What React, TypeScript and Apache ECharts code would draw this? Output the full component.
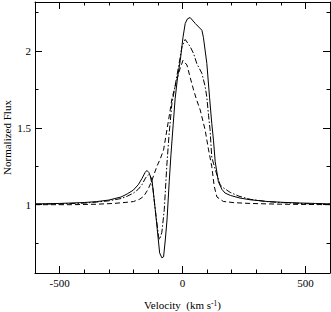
import React, { useEffect, useRef } from "react";
import * as echarts from "echarts";

// Solid profile
const solidVel = [-600, -500, -400, -350, -300, -250, -225, -200, -180, -165, -152, -145, -137, -124, -111, -97, -93, -84, -77, -70, -63, -54, -47, -38, -30, -20, -9, 2, 11, 20, 31, 52, 79, 85, 99, 110, 119, 126, 133, 146, 160, 173, 195, 234, 275, 343, 410, 478, 540, 600];
const solidFlux = [1.005, 1.008, 1.014, 1.02, 1.03, 1.05, 1.07, 1.095, 1.13, 1.17, 1.21, 1.223, 1.21, 1.16, 0.97, 0.75, 0.686, 0.654, 0.66, 0.77, 0.9, 1.15, 1.325, 1.52, 1.69, 1.83, 1.94, 2.09, 2.18, 2.21, 2.219, 2.18, 2.136, 2.09, 1.92, 1.7, 1.53, 1.42, 1.28, 1.15, 1.1, 1.076, 1.06, 1.043, 1.032, 1.021, 1.015, 1.011, 1.008, 1.005];

// Dash-dot profile
const dashDotVel = [-600, -500, -400, -350, -300, -250, -225, -200, -180, -165, -150, -138, -130, -120, -111, -97, -93, -84, -74, -64, -55, -43, -36, -16, -2, 11, 31, 45, 58, 79, 92, 99, 106, 112, 119, 126, 133, 153, 166, 194, 230, 275, 343, 410, 478, 540, 600];
const dashDotFlux = [1.003, 1.005, 1.01, 1.017, 1.025, 1.04, 1.055, 1.075, 1.1, 1.13, 1.175, 1.195, 1.18, 1.1, 0.97, 0.79, 0.773, 0.82, 0.97, 1.25, 1.45, 1.66, 1.72, 1.9, 2.03, 2.076, 2.03, 1.985, 1.92, 1.855, 1.77, 1.7, 1.58, 1.49, 1.31, 1.27, 1.23, 1.13, 1.11, 1.08, 1.055, 1.035, 1.02, 1.013, 1.008, 1.005, 1.003];

// Dashed profile
const dashedVel = [-600, -450, -350, -280, -230, -200, -175, -158, -140, -124, -104, -90, -77, -62, -50, -43, -30, -12, 2, 18, 31, 45, 58, 72, 92, 106, 119, 129, 140, 166, 210, 275, 400, 600];
const dashedFlux = [1.0, 1.0, 1.003, 1.008, 1.015, 1.02, 1.035, 1.054, 1.1, 1.16, 1.25, 1.3, 1.357, 1.5, 1.617, 1.69, 1.77, 1.877, 1.94, 1.91, 1.83, 1.747, 1.68, 1.617, 1.487, 1.357, 1.25, 1.12, 1.05, 1.021, 1.013, 1.008, 1.003, 1.0];

const xMajorTicks = [-500, 0, 500];
const xMinorTicks = [-600, -500, -400, -300, -200, -100, 0, 100, 200, 300, 400, 500, 600];
const yMajorTicks = [1, 1.5, 2];
const yMinorTicks = [0.75, 1.25, 1.75, 2.25];

const X_MIN = -600;
const X_MAX = 600;
const Y_MIN = 0.555;
const Y_MAX = 2.32;

const FONT = "Liberation Serif";

const zip = (a: number[], b: number[]) => a.map((v, i) => [v, b[i]]);

export default function App() {
  const ref = useRef<HTMLDivElement>(null);
  useEffect(() => {
    if (!ref.current) return;
    const chart = echarts.init(ref.current, undefined, { renderer: "svg" });
    const line = { show: true, onZero: false, lineStyle: { color: "#000", width: 1 } };
    const noLine = { show: false, onZero: false };
    const baseX = (position: string, ticks: number[], len: number, showLine: boolean, labels: boolean) => ({
      type: "value",
      position,
      min: X_MIN,
      max: X_MAX,
      axisLine: showLine ? line : noLine,
      axisTick: { show: true, inside: true, length: len, customValues: ticks, lineStyle: { color: "#000", width: 1 } },
      axisLabel: labels
        ? { show: true, customValues: ticks, fontFamily: FONT, fontSize: 11, color: "#000", margin: 4 }
        : { show: false },
      splitLine: { show: false },
    });
    const baseY = (position: string, ticks: number[], len: number, showLine: boolean, labels: boolean) => ({
      type: "value",
      position,
      min: Y_MIN,
      max: Y_MAX,
      axisLine: showLine ? line : noLine,
      axisTick: { show: true, inside: true, length: len, customValues: ticks, lineStyle: { color: "#000", width: 1 } },
      axisLabel: labels
        ? { show: true, customValues: ticks, fontFamily: FONT, fontSize: 11, color: "#000", margin: 4 }
        : { show: false },
      splitLine: { show: false },
    });
    const xMain: any = baseX("bottom", xMajorTicks, 7, true, true);
    xMain.name = "{a|Velocity  (km s}{sup|-1}{a|)}";
    xMain.nameLocation = "middle";
    xMain.nameGap = 26;
    xMain.nameMoveOverlap = false;
    xMain.nameTextStyle = {
      rich: {
        a: { fontFamily: FONT, fontSize: 11, color: "#000" },
        sup: { fontFamily: FONT, fontSize: 7.5, color: "#000", verticalAlign: "top" },
      },
    };
    const yMain: any = baseY("left", yMajorTicks, 7, true, true);
    yMain.name = "Normalized Flux";
    yMain.nameLocation = "middle";
    yMain.nameGap = 23;
    yMain.nameMoveOverlap = false;
    yMain.nameTextStyle = { fontFamily: FONT, fontSize: 11, color: "#000" };

    chart.setOption({
      animation: false,
      grid: { left: 35, right: 1, top: 2, bottom: 39, containLabel: false, outerBoundsMode: "none" },
      xAxis: [
        xMain,
        baseX("bottom", xMinorTicks, 3.5, false, false),
        baseX("top", xMajorTicks, 7, true, false),
        baseX("top", xMinorTicks, 3.5, false, false),
      ],
      yAxis: [
        yMain,
        baseY("left", yMinorTicks, 3.5, false, false),
        baseY("right", yMajorTicks, 7, true, false),
        baseY("right", yMinorTicks, 3.5, false, false),
      ],
      series: [
        {
          type: "line",
          data: zip(solidVel, solidFlux),
          showSymbol: false,
          symbol: "none",
          lineStyle: { color: "#000", width: 1, type: "solid" },
        },
        {
          type: "line",
          data: zip(dashDotVel, dashDotFlux),
          showSymbol: false,
          symbol: "none",
          lineStyle: { color: "#000", width: 1, type: [6, 2, 1.5, 2] },
        },
        {
          type: "line",
          data: zip(dashedVel, dashedFlux),
          showSymbol: false,
          symbol: "none",
          lineStyle: { color: "#000", width: 1, type: [5, 3] },
        },
      ],
    });
    return () => chart.dispose();
  }, []);
  return <div ref={ref} style={{ width: 331, height: 312, position: "absolute", left: 0, top: 0 }} />;
}
